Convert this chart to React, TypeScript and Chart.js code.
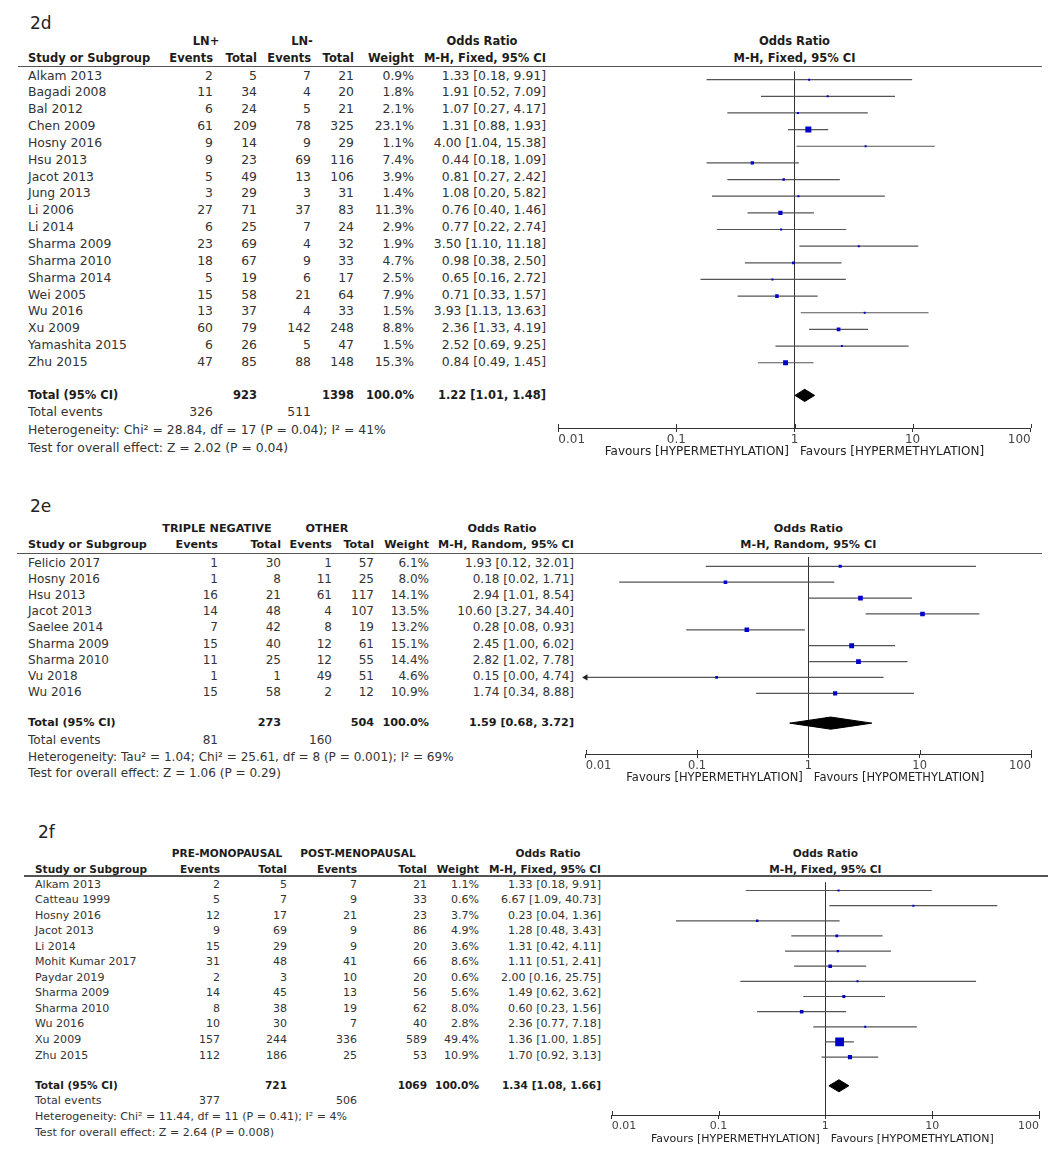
import React, { useEffect, useRef } from "react";
import { Chart, registerables } from "chart.js";
Chart.register(...registerables);

const FONT = "'DejaVu Sans', 'Noto Sans', sans-serif";
const PAGE_W = 1059;
const PAGE_H = 1163;

// ---------- shared axis ----------
const tickValues = [0.01, 0.1, 1, 10, 100];
const tickLabels = ["0.01", "0.1", "1", "10", "100"];

// ---------- 2d : LN+ vs LN- ----------
const d_studies = ["Alkam 2013", "Bagadi 2008", "Bal 2012", "Chen 2009", "Hosny 2016", "Hsu 2013", "Jacot 2013", "Jung 2013", "Li 2006", "Li 2014", "Sharma 2009", "Sharma 2010", "Sharma 2014", "Wei 2005", "Wu 2016", "Xu 2009", "Yamashita 2015", "Zhu 2015"];
const d_e1 = [2, 11, 6, 61, 9, 9, 5, 3, 27, 6, 23, 18, 5, 15, 13, 60, 6, 47];
const d_t1 = [5, 34, 24, 209, 14, 23, 49, 29, 71, 25, 69, 67, 19, 58, 37, 79, 26, 85];
const d_e2 = [7, 4, 5, 78, 9, 69, 13, 3, 37, 7, 4, 9, 6, 21, 4, 142, 5, 88];
const d_t2 = [21, 20, 21, 325, 29, 116, 106, 31, 83, 24, 32, 33, 17, 64, 33, 248, 47, 148];
const d_weight = [0.9, 1.8, 2.1, 23.1, 1.1, 7.4, 3.9, 1.4, 11.3, 2.9, 1.9, 4.7, 2.5, 7.9, 1.5, 8.8, 1.5, 15.3];
const d_or = [1.33, 1.91, 1.07, 1.31, 4.0, 0.44, 0.81, 1.08, 0.76, 0.77, 3.5, 0.98, 0.65, 0.71, 3.93, 2.36, 2.52, 0.84];
const d_lo = [0.18, 0.52, 0.27, 0.88, 1.04, 0.18, 0.27, 0.2, 0.4, 0.22, 1.1, 0.38, 0.16, 0.33, 1.13, 1.33, 0.69, 0.49];
const d_hi = [9.91, 7.09, 4.17, 1.93, 15.38, 1.09, 2.42, 5.82, 1.46, 2.74, 11.18, 2.5, 2.72, 1.57, 13.63, 4.19, 9.25, 1.45];
const d_totals = [923, 1398];
const d_totalEvents = [326, 511];
const d_totalOR = [1.22, 1.01, 1.48];
const d_groups = ["LN+", "LN-"];
const d_method = "M-H, Fixed, 95% CI";
const d_het = "Heterogeneity: Chi\u00b2 = 28.84, df = 17 (P = 0.04); I\u00b2 = 41%";
const d_test = "Test for overall effect: Z = 2.02 (P = 0.04)";
const d_favours = ["Favours [HYPERMETHYLATION]", "Favours [HYPERMETHYLATION]"];

// ---------- 2e : triple negative vs other ----------
const e_studies = ["Felicio 2017", "Hosny 2016", "Hsu 2013", "Jacot 2013", "Saelee 2014", "Sharma 2009", "Sharma 2010", "Vu 2018", "Wu 2016"];
const e_e1 = [1, 1, 16, 14, 7, 15, 11, 1, 15];
const e_t1 = [30, 8, 21, 48, 42, 40, 25, 1, 58];
const e_e2 = [1, 11, 61, 4, 8, 12, 12, 49, 2];
const e_t2 = [57, 25, 117, 107, 19, 61, 55, 51, 12];
const e_weight = [6.1, 8.0, 14.1, 13.5, 13.2, 15.1, 14.4, 4.6, 10.9];
const e_or = [1.93, 0.18, 2.94, 10.6, 0.28, 2.45, 2.82, 0.15, 1.74];
const e_lo = [0.12, 0.02, 1.01, 3.27, 0.08, 1.0, 1.02, 0.0, 0.34];
const e_hi = [32.01, 1.71, 8.54, 34.4, 0.93, 6.02, 7.78, 4.74, 8.88];
const e_totals = [273, 504];
const e_totalEvents = [81, 160];
const e_totalOR = [1.59, 0.68, 3.72];
const e_groups = ["TRIPLE NEGATIVE", "OTHER"];
const e_method = "M-H, Random, 95% CI";
const e_het = "Heterogeneity: Tau\u00b2 = 1.04; Chi\u00b2 = 25.61, df = 8 (P = 0.001); I\u00b2 = 69%";
const e_test = "Test for overall effect: Z = 1.06 (P = 0.29)";
const e_favours = ["Favours [HYPERMETHYLATION]", "Favours [HYPOMETHYLATION]"];

// ---------- 2f : pre vs post menopausal ----------
const f_studies = ["Alkam 2013", "Catteau 1999", "Hosny 2016", "Jacot 2013", "Li 2014", "Mohit Kumar 2017", "Paydar 2019", "Sharma 2009", "Sharma 2010", "Wu 2016", "Xu 2009", "Zhu 2015"];
const f_e1 = [2, 5, 12, 9, 15, 31, 2, 14, 8, 10, 157, 112];
const f_t1 = [5, 7, 17, 69, 29, 48, 3, 45, 38, 30, 244, 186];
const f_e2 = [7, 9, 21, 9, 9, 41, 10, 13, 19, 7, 336, 25];
const f_t2 = [21, 33, 23, 86, 20, 66, 20, 56, 62, 40, 589, 53];
const f_weight = [1.1, 0.6, 3.7, 4.9, 3.6, 8.6, 0.6, 5.6, 8.0, 2.8, 49.4, 10.9];
const f_or = [1.33, 6.67, 0.23, 1.28, 1.31, 1.11, 2.0, 1.49, 0.6, 2.36, 1.36, 1.7];
const f_lo = [0.18, 1.09, 0.04, 0.48, 0.42, 0.51, 0.16, 0.62, 0.23, 0.77, 1.0, 0.92];
const f_hi = [9.91, 40.73, 1.36, 3.43, 4.11, 2.41, 25.75, 3.62, 1.56, 7.18, 1.85, 3.13];
const f_totals = [721, 1069];
const f_totalEvents = [377, 506];
const f_totalOR = [1.34, 1.08, 1.66];
const f_groups = ["PRE-MONOPAUSAL", "POST-MENOPAUSAL"];
const f_method = "M-H, Fixed, 95% CI";
const f_het = "Heterogeneity: Chi\u00b2 = 11.44, df = 11 (P = 0.41); I\u00b2 = 4%";
const f_test = "Test for overall effect: Z = 2.64 (P = 0.008)";
const f_favours = ["Favours [HYPERMETHYLATION]", "Favours [HYPOMETHYLATION]"];

// ---------- types ----------
interface PanelData {
  studies: string[]; e1: number[]; t1: number[]; e2: number[]; t2: number[];
  weight: number[]; or: number[]; lo: number[]; hi: number[];
  totals: number[]; totalEvents: number[]; totalOR: number[];
  groups: string[]; method: string; het: string; test: string; favours: string[];
}
interface Layout {
  label: string; labelX: number; labelY: number; nameX: number; cols: number[];
  row1Y: number; row2Y: number; lineY: number; lineX0: number; lineX1: number;
  row0Y: number; sp: number; totalY: number; eventsY: number; hetY: number; testY: number;
  g1X: number; g2X: number; orX: number; x001: number; x100: number; axisY: number;
  fs: number; bfs: number; afs: number;
}

const panelD: PanelData = { studies: d_studies, e1: d_e1, t1: d_t1, e2: d_e2, t2: d_t2, weight: d_weight, or: d_or, lo: d_lo, hi: d_hi, totals: d_totals, totalEvents: d_totalEvents, totalOR: d_totalOR, groups: d_groups, method: d_method, het: d_het, test: d_test, favours: d_favours };
const panelE: PanelData = { studies: e_studies, e1: e_e1, t1: e_t1, e2: e_e2, t2: e_t2, weight: e_weight, or: e_or, lo: e_lo, hi: e_hi, totals: e_totals, totalEvents: e_totalEvents, totalOR: e_totalOR, groups: e_groups, method: e_method, het: e_het, test: e_test, favours: e_favours };
const panelF: PanelData = { studies: f_studies, e1: f_e1, t1: f_t1, e2: f_e2, t2: f_t2, weight: f_weight, or: f_or, lo: f_lo, hi: f_hi, totals: f_totals, totalEvents: f_totalEvents, totalOR: f_totalOR, groups: f_groups, method: f_method, het: f_het, test: f_test, favours: f_favours };

const layoutD: Layout = {
  label: "2d", labelX: 30, labelY: 23, nameX: 28, cols: [213, 257, 311, 354, 414, 546],
  row1Y: 41, row2Y: 58, lineY: 66.7, lineX0: 18, lineX1: 1042,
  row0Y: 75.5, sp: 16.85, totalY: 395, eventsY: 411.5, hetY: 429.5, testY: 447.5,
  g1X: 206, g2X: 302, orX: 482, x001: 558.3, x100: 1030.7, axisY: 428,
  fs: 12.4, bfs: 11.5, afs: 12,
};
const layoutE: Layout = {
  label: "2e", labelX: 30, labelY: 506, nameX: 28, cols: [218, 281, 332, 374, 429, 574],
  row1Y: 528.5, row2Y: 545, lineY: 553.3, lineX0: 17, lineX1: 1042,
  row0Y: 562.5, sp: 16.2, totalY: 722.5, eventsY: 740, hetY: 757, testY: 773,
  g1X: 217, g2X: 327, orX: 502, x001: 585.7, x100: 1031, axisY: 754,
  fs: 12.05, bfs: 11.2, afs: 11.5,
};
const layoutF: Layout = {
  label: "2f", labelX: 38, labelY: 832, nameX: 35, cols: [220, 287, 357, 427, 479, 601],
  row1Y: 853, row2Y: 869, lineY: 876, lineX0: 24, lineX1: 1048,
  row0Y: 884.5, sp: 15.55, totalY: 1085, eventsY: 1101, hetY: 1117, testY: 1133,
  g1X: 227, g2X: 358, orX: 548, x001: 611.7, x100: 1039, axisY: 1115,
  fs: 11.05, bfs: 10.55, afs: 11,
};

// ---------- helpers ----------
function Txt(props: { x: number; y: number; a?: "l" | "r" | "c"; b?: boolean; fs: number; col?: string; children: React.ReactNode }) {
  const { x, y, a = "l", b = false, fs, col, children } = props;
  const st: React.CSSProperties = {
    position: "absolute", top: y - 10, height: 20, lineHeight: "20px",
    fontSize: fs, fontFamily: FONT, fontWeight: b ? "bold" : "normal",
    color: col || (b ? "#1c1c1c" : "#333"), whiteSpace: "nowrap",
  };
  if (a === "l") st.left = x;
  else if (a === "r") st.right = PAGE_W - x;
  else { st.left = x - 300; st.width = 600; st.textAlign = "center"; }
  return <div style={st}>{children}</div>;
}

const fmtOR = (v: number, lo: number, hi: number) => `${v.toFixed(2)} [${lo.toFixed(2)}, ${hi.toFixed(2)}]`;

function ForestChart({ d, L }: { d: PanelData; L: Layout }) {
  const ref = useRef<HTMLCanvasElement | null>(null);
  const axisH = 42;
  const left = Math.floor(L.x001 - 30);
  const padL = L.x001 - left;
  const width = Math.ceil(L.x100 + 30 - left);
  const padR = width - (L.x100 - left);
  const top = Math.round(L.lineY);
  const bottom = Math.round(L.axisY);
  const height = bottom - top + axisH;

  useEffect(() => {
    if (!ref.current) return;
    const yMin = (top - L.row0Y) / L.sp;
    const yMax = (bottom - L.row0Y) / L.sp;
    const tIdx = (L.totalY - L.row0Y) / L.sp;
    const h = 6.2 / L.sp;
    const [est, tlo, thi] = d.totalOR;

    const squares = {
      type: "scatter",
      data: d.or.map((v, i) => ({ x: v, y: i })),
      pointStyle: "rect",
      pointRadius: d.weight.map((w) => Math.max(2, 1.25 * Math.sqrt(w)) / Math.SQRT2),
      pointBackgroundColor: "#0000c8",
      pointBorderWidth: 0,
      order: 0,
    };
    const arrows = {
      type: "scatter",
      data: d.lo.map((v, i) => (v < 0.01 ? { x: 0.01, y: i } : null)).filter((p) => p !== null),
      pointStyle: "triangle",
      pointRotation: -90,
      pointRadius: 3.6,
      pointBackgroundColor: "#222",
      pointBorderWidth: 0,
      clip: false,
      order: 1,
    };
    const diamond = {
      type: "scatter",
      data: [
        { x: tlo, y: tIdx }, { x: est, y: tIdx - h }, { x: thi, y: tIdx },
        { x: est, y: tIdx + h }, { x: tlo, y: tIdx },
      ],
      showLine: true,
      fill: "shape",
      backgroundColor: "#000",
      borderColor: "#000",
      borderWidth: 1,
      pointRadius: 0,
      order: 1,
    };
    const cis = d.studies.map((s, i) => ({
      type: "scatter",
      label: s,
      data: [{ x: Math.max(d.lo[i], 0.01), y: i }, { x: d.hi[i], y: i }],
      showLine: true,
      borderColor: "#555",
      borderWidth: 1.2,
      pointRadius: 0,
      order: 3,
    }));

    const favoursPlugin = {
      id: "favours",
      afterDraw(chart: any) {
        const ctx = chart.ctx;
        const xs = chart.scales.x;
        const x1 = xs.getPixelForValue(1);
        const yb = chart.chartArea.bottom;
        ctx.save();
        ctx.strokeStyle = "#333";
        ctx.lineWidth = 1;
        tickValues.forEach((v) => {
          const px = Math.round(xs.getPixelForValue(v)) + 0.5;
          ctx.beginPath();
          ctx.moveTo(px, yb - 4);
          ctx.lineTo(px, yb);
          ctx.stroke();
        });
        ctx.font = `${L.afs}px ${FONT}`;
        ctx.fillStyle = "#222";
        ctx.textBaseline = "middle";
        ctx.textAlign = "right";
        ctx.fillText(d.favours[0], x1 - 5.5, yb + 24);
        ctx.textAlign = "left";
        ctx.fillText(d.favours[1], x1 + 5.5, yb + 24);
        ctx.restore();
      },
    };

    const chart = new Chart(ref.current, {
      type: "scatter",
      data: { datasets: [squares, arrows, diamond, ...cis] as any },
      options: {
        animation: false,
        responsive: false,
        maintainAspectRatio: false,
        events: [],
        layout: { padding: { left: padL, right: padR, top: 0, bottom: 0 } },
        plugins: { legend: { display: false }, tooltip: { enabled: false }, title: { display: false } },
        scales: {
          x: {
            type: "logarithmic",
            min: 0.01,
            max: 100,
            position: "bottom",
            afterBuildTicks: (s: any) => { s.ticks = tickValues.map((v) => ({ value: v })); },
            afterFit: (s: any) => { s.height = axisH; },
            grid: {
              color: (c: any) => (c.tick && c.tick.value === 1 ? "#333" : "rgba(0,0,0,0)"),
              tickColor: "#333",
              tickLength: 4,
              lineWidth: 1,
              drawOnChartArea: true,
              drawTicks: true,
            },
            border: { display: true, color: "#333", width: 1 },
            ticks: {
              autoSkip: false,
              maxRotation: 0,
              align: "inner",
              padding: 1,
              color: "#444",
              font: { family: FONT, size: L.afs },
              callback: (_v: any, i: number) => tickLabels[i],
            },
          },
          y: { type: "linear", display: false, reverse: true, min: yMin, max: yMax },
        },
      } as any,
      plugins: [favoursPlugin],
    });
    return () => chart.destroy();
  }, []);

  return (
    <canvas
      ref={ref}
      width={width}
      height={height}
      style={{ position: "absolute", left, top, width, height }}
    />
  );
}

function Panel({ d, L }: { d: PanelData; L: Layout }) {
  const fs = L.fs;
  const bfs = L.bfs;
  const c = L.cols;
  const x1 = (L.x001 + L.x100) / 2;
  return (
    <>
      <Txt x={L.labelX} y={L.labelY} fs={17} col="#222">{L.label}</Txt>
      <Txt x={L.g1X} y={L.row1Y} a="c" b fs={bfs}>{d.groups[0]}</Txt>
      <Txt x={L.g2X} y={L.row1Y} a="c" b fs={bfs}>{d.groups[1]}</Txt>
      <Txt x={L.orX} y={L.row1Y} a="c" b fs={bfs}>Odds Ratio</Txt>
      <Txt x={x1} y={L.row1Y} a="c" b fs={bfs}>Odds Ratio</Txt>
      <Txt x={L.nameX} y={L.row2Y} b fs={bfs}>Study or Subgroup</Txt>
      <Txt x={c[0]} y={L.row2Y} a="r" b fs={bfs}>Events</Txt>
      <Txt x={c[1]} y={L.row2Y} a="r" b fs={bfs}>Total</Txt>
      <Txt x={c[2]} y={L.row2Y} a="r" b fs={bfs}>Events</Txt>
      <Txt x={c[3]} y={L.row2Y} a="r" b fs={bfs}>Total</Txt>
      <Txt x={c[4]} y={L.row2Y} a="r" b fs={bfs}>Weight</Txt>
      <Txt x={c[5]} y={L.row2Y} a="r" b fs={bfs}>{d.method}</Txt>
      <Txt x={x1} y={L.row2Y} a="c" b fs={bfs}>{d.method}</Txt>
      <div style={{ position: "absolute", left: L.lineX0, top: L.lineY - 0.8, width: L.lineX1 - L.lineX0, height: 1.6, background: "#555" }} />
      {d.studies.map((s, i) => {
        const y = L.row0Y + i * L.sp;
        return (
          <React.Fragment key={s + i}>
            <Txt x={L.nameX} y={y} fs={fs}>{s}</Txt>
            <Txt x={c[0]} y={y} a="r" fs={fs}>{d.e1[i]}</Txt>
            <Txt x={c[1]} y={y} a="r" fs={fs}>{d.t1[i]}</Txt>
            <Txt x={c[2]} y={y} a="r" fs={fs}>{d.e2[i]}</Txt>
            <Txt x={c[3]} y={y} a="r" fs={fs}>{d.t2[i]}</Txt>
            <Txt x={c[4]} y={y} a="r" fs={fs}>{d.weight[i].toFixed(1) + "%"}</Txt>
            <Txt x={c[5]} y={y} a="r" fs={fs}>{fmtOR(d.or[i], d.lo[i], d.hi[i])}</Txt>
          </React.Fragment>
        );
      })}
      <Txt x={L.nameX} y={L.totalY} b fs={bfs}>Total (95% CI)</Txt>
      <Txt x={c[1]} y={L.totalY} a="r" b fs={bfs}>{d.totals[0]}</Txt>
      <Txt x={c[3]} y={L.totalY} a="r" b fs={bfs}>{d.totals[1]}</Txt>
      <Txt x={c[4]} y={L.totalY} a="r" b fs={bfs}>100.0%</Txt>
      <Txt x={c[5]} y={L.totalY} a="r" b fs={bfs}>{fmtOR(d.totalOR[0], d.totalOR[1], d.totalOR[2])}</Txt>
      <Txt x={L.nameX} y={L.eventsY} fs={fs}>Total events</Txt>
      <Txt x={c[0]} y={L.eventsY} a="r" fs={fs}>{d.totalEvents[0]}</Txt>
      <Txt x={c[2]} y={L.eventsY} a="r" fs={fs}>{d.totalEvents[1]}</Txt>
      <Txt x={L.nameX} y={L.hetY} fs={fs}>{d.het}</Txt>
      <Txt x={L.nameX} y={L.testY} fs={fs}>{d.test}</Txt>
      <ForestChart d={d} L={L} />
    </>
  );
}

export default function App() {
  return (
    <div style={{ position: "absolute", left: 0, top: 0, width: PAGE_W, height: PAGE_H, overflow: "hidden", background: "#fff" }}>
      <Panel d={panelD} L={layoutD} />
      <Panel d={panelE} L={layoutE} />
      <Panel d={panelF} L={layoutF} />
    </div>
  );
}
